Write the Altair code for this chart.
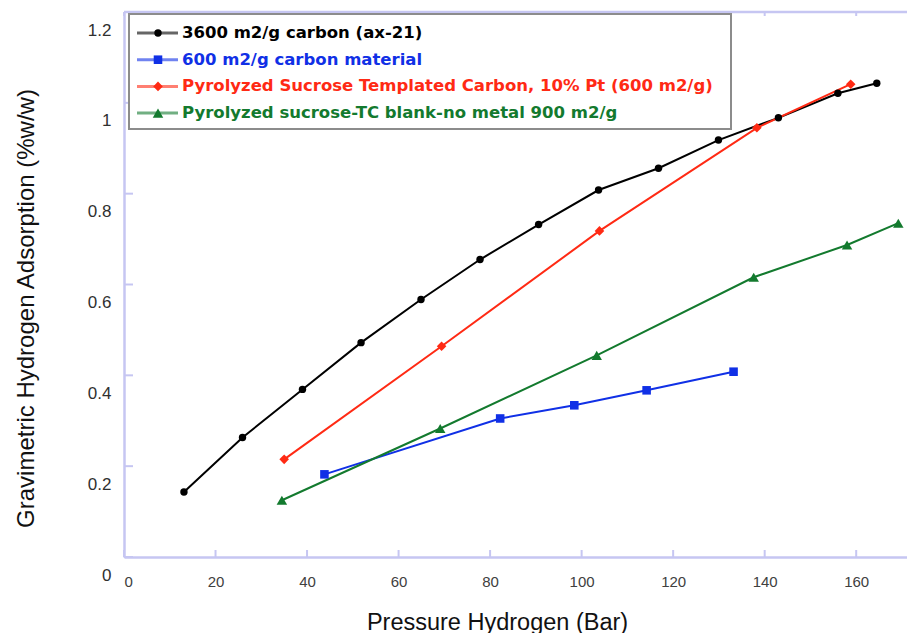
import altair as alt
import pandas as pd

# ---- data ----
names = [
    "3600 m2/g carbon (ax-21)",
    "600 m2/g carbon material",
    "Pyrolyzed Sucrose Templated Carbon, 10% Pt (600 m2/g)",
    "Pyrolyzed sucrose-TC blank-no metal 900 m2/g",
]
colors = ["#000000", "#1030e6", "#ff2a14", "#137a2e"]
shapes = ["circle", "square", "diamond", "triangle-up"]
sizes = [55, 110, 60, 45]

black_x = [13.1, 25.9, 39.0, 51.8, 64.9, 77.8, 90.6, 103.7, 116.8, 129.9, 143.0, 156.0, 164.5]
black_y = [0.143, 0.263, 0.369, 0.472, 0.567, 0.655, 0.732, 0.808, 0.856, 0.918, 0.967, 1.021, 1.043]
blue_x = [43.8, 82.2, 98.4, 114.2, 133.2]
blue_y = [0.182, 0.305, 0.334, 0.367, 0.408]
red_x = [35.0, 69.4, 103.9, 138.3, 158.8]
red_y = [0.215, 0.464, 0.718, 0.945, 1.041]
green_x = [34.5, 69.1, 103.3, 137.6, 158.0, 169.2]
green_y = [0.125, 0.283, 0.444, 0.616, 0.687, 0.735]

x_ticks = [0, 20, 40, 60, 80, 100, 120, 140, 160]
y_ticks = [0, 0.2, 0.4, 0.6, 0.8, 1, 1.2]

x_title = "Pressure Hydrogen (Bar)"
y_title = "Gravimetric Hydrogen Adsorption (%w/w)"

# ---- tables ----
series_x = [black_x, blue_x, red_x, green_x]
series_y = [black_y, blue_y, red_y, green_y]
rows = []
for n, xs, ys in zip(names, series_x, series_y):
    for i, (xv, yv) in enumerate(zip(xs, ys)):
        rows.append({"series": n, "p": xv, "a": yv, "i": i})
df = pd.DataFrame(rows)
leg_df = pd.DataFrame({"series": names, "idx": list(range(len(names)))})
xt_df = pd.DataFrame({"p": x_ticks})
yt_df = pd.DataFrame({"a": y_ticks})

W, H = 783, 545
AXC = "#c6c6f2"
FONT = "Liberation Sans"

xscale = alt.Scale(domain=[0, 171.1], nice=False, zero=False)
yscale = alt.Scale(domain=[0, 1.2], nice=False)
cscale = alt.Scale(domain=names, range=colors)
sscale = alt.Scale(domain=names, range=shapes)
zscale = alt.Scale(domain=names, range=sizes)

x_axis = alt.Axis(
    values=x_ticks, format="d", title=x_title, grid=False,
    domainColor=AXC, domainWidth=2.5, ticks=False, tickSize=0,
    labelFont=FONT, labelFontSize=15, labelColor="#404040", labelPadding=17,
    titleFont=FONT, titleFontSize=23.5, titleFontWeight="normal", titleColor="#111111",
    titleX=373, titleY=65, titleBaseline="middle",
)
y_axis = alt.Axis(
    values=y_ticks, format="~g", title=y_title, grid=False,
    domainColor=AXC, domainWidth=2.5, ticks=False, tickSize=0,
    labelFont=FONT, labelFontSize=17, labelColor="#303030", labelPadding=13,
    labelOffset=18,
    titleFont=FONT, titleFontSize=24, titleFontWeight="normal", titleColor="#111111",
    titleX=-98, titleY=296, titleBaseline="middle", titleAlign="center",
)

X = alt.X("p:Q", scale=xscale, axis=x_axis)
Y = alt.Y("a:Q", scale=yscale, axis=y_axis)
C = alt.Color("series:N", scale=cscale, legend=None)

lines = alt.Chart(df).mark_line(strokeWidth=2).encode(
    x=X, y=Y, color=C, order="i:Q"
)
points = alt.Chart(df).mark_point(filled=True, opacity=1).encode(
    x=X, y=Y, color=C,
    shape=alt.Shape("series:N", scale=sscale, legend=None),
    size=alt.Size("series:N", scale=zscale, legend=None),
)

top_border = alt.Chart(pd.DataFrame({"v": [0]})).mark_rule(
    color=AXC, strokeWidth=2.5
).encode(x=alt.value(0), x2=alt.value(W), y=alt.value(0))

ytk = alt.Chart(yt_df).mark_rule(color=AXC, strokeWidth=2).encode(
    y=Y, x=alt.value(0), x2=alt.value(9)
)
xtk_b = alt.Chart(xt_df).mark_rule(color=AXC, strokeWidth=2).encode(
    x=X, y=alt.value(H), y2=alt.value(H - 7)
)
xtk_t = alt.Chart(xt_df).mark_rule(color=AXC, strokeWidth=2).encode(
    x=X, y=alt.value(0), y2=alt.value(4)
)

# ---- hand-built legend ----
leg_base = alt.Chart(leg_df).transform_calculate(ly="21 + 26.7 * datum.idx")
LY = alt.Y("ly:Q", scale=None, axis=None)
leg_box = alt.Chart(pd.DataFrame({"v": [0]})).mark_rect(
    fill="white", stroke="#8c8c8c", strokeWidth=2
).encode(x=alt.value(5), x2=alt.value(607), y=alt.value(2), y2=alt.value(117))
leg_lines = leg_base.mark_rule(strokeWidth=3, opacity=0.6).encode(
    x=alt.value(13), x2=alt.value(54), y=LY, color=C
)
leg_pts = leg_base.mark_point(filled=True, opacity=1).encode(
    x=alt.value(34), y=LY, color=C,
    shape=alt.Shape("series:N", scale=sscale, legend=None),
    size=alt.Size("series:N", scale=zscale, legend=None),
)
leg_text = leg_base.mark_text(
    align="left", baseline="middle", font="DejaVu Sans", fontSize=16.5, fontWeight="bold"
).encode(x=alt.value(58), y=LY, text="series:N", color=C)

chart = alt.layer(
    lines, points, top_border, ytk, xtk_b, xtk_t,
    leg_box, leg_lines, leg_pts, leg_text,
).properties(
    width=W, height=H,
    autosize=alt.AutoSizeParams(type="none"),
    padding={"left": 116, "top": 4, "right": 0, "bottom": 80},
).configure_view(strokeWidth=0)

chart.save("out.html", embed_options={"renderer": "svg", "actions": False})
